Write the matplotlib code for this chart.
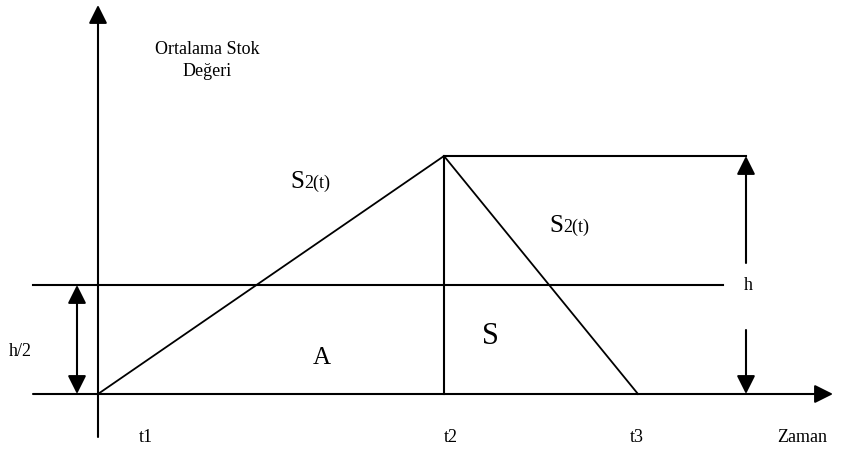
import matplotlib
matplotlib.use("Agg")
import matplotlib.pyplot as plt

# diagram positions, in pixel units of the 842x451 picture (y grows downwards)
t_labels = ["t1", "t2", "t3"]
t_pos = [98, 444, 638]          # origin / peak time / end of falling leg
base_y = 394                    # time axis
half_y = 285                    # h/2 level
peak_y = 156                    # h level
axis_top = 5
axis_bottom = 437
axis_left = 33
axis_right = 833
half_right = 723
peak_right = 746
h_arrow_x = 746
h2_arrow_x = 77

plt.rcParams["font.family"] = ["Liberation Serif", "DejaVu Serif"]

fig = plt.figure(figsize=(8.42, 4.51), dpi=100)
ax = fig.add_axes([0, 0, 1, 1])
ax.set_xlim(0, 842)
ax.set_ylim(451, 0)
ax.axis("off")

k = "black"
arrow = dict(arrowstyle="-|>,head_length=0.4,head_width=0.2", mutation_scale=28,
             lw=1.5, color=k, shrinkA=0, shrinkB=0)
darrow = dict(arrow, arrowstyle="<|-|>,head_length=0.4,head_width=0.2")

# axes
ax.annotate("", xy=(t_pos[0], axis_top), xytext=(t_pos[0], axis_bottom), arrowprops=arrow)
ax.annotate("", xy=(axis_right, base_y), xytext=(axis_left, base_y), arrowprops=arrow)

# levels
ax.plot([axis_left, half_right], [half_y, half_y], color=k, lw=1.5)
ax.plot([t_pos[1], peak_right], [peak_y, peak_y], color=k, lw=1.5)

# stock curve
ax.plot([t_pos[0], t_pos[1], t_pos[2]], [base_y, peak_y, base_y], color=k, lw=1.3)
ax.plot([t_pos[1], t_pos[1]], [peak_y, base_y], color=k, lw=1.5)

# h/2 arrow
ax.annotate("", xy=(h2_arrow_x, half_y), xytext=(h2_arrow_x, base_y), arrowprops=darrow)
# h arrows
ax.annotate("", xy=(h_arrow_x, peak_y), xytext=(h_arrow_x, 263), arrowprops=arrow)
ax.annotate("", xy=(h_arrow_x, base_y), xytext=(h_arrow_x, 330), arrowprops=arrow)

# labels
ax.text(207, 49, "Ortalama Stok", fontsize=13, ha="center", va="center")
ax.text(207, 72, "Değeri", fontsize=13, ha="center", va="center")
ax.text(20, 352, "h/2", fontsize=13, ha="center", va="center")
ax.text(748, 285, "h", fontsize=13, ha="center", va="center")
for lab, x in zip(t_labels, [146, 451, 637]):
    ax.text(x, 437, lab, fontsize=13, ha="center", va="center")
ax.text(802, 437, "Zaman", fontsize=13, ha="center", va="center")

for sx, sy in [(290, 188), (549, 232)]:
    s = ax.text(sx, sy, "S", fontsize=18, ha="left", va="baseline")
    ax.annotate("2(t)", xy=(1, 0), xycoords=s, xytext=(0, 4), textcoords="offset points",
                fontsize=13, ha="left", va="baseline")

ax.text(322, 358, "A", fontsize=18, ha="center", va="center")
ax.text(490, 337, "S", fontsize=22, ha="center", va="center")

fig.savefig("out.png", dpi=100)
